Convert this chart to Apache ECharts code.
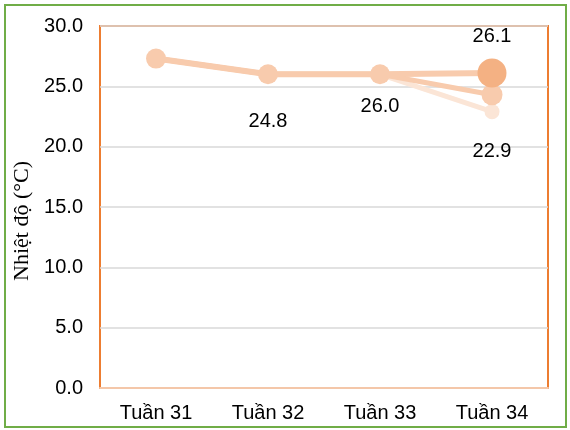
<!DOCTYPE html>
<html>
<head>
<meta charset="utf-8">
<script src="https://cdn.jsdelivr.net/npm/echarts@6/dist/echarts.min.js"></script>
<style>
  html, body { margin: 0; padding: 0; background: #fff; }
  #frame { position: absolute; left: 4px; top: 4px; width: 563px; height: 424px; border: 2px solid #70AD47; box-sizing: border-box; }
  #chart { position: absolute; left: 0; top: 0; width: 570px; height: 430px; }
</style>
</head>
<body>
<div id="frame"></div>
<div id="chart"></div>
<script>
const weeks = ['Tuần 31', 'Tuần 32', 'Tuần 33', 'Tuần 34'];
const tempMain = [27.3, 26.0, 26.0, 26.1];
const tempMid = [27.3, 26.0, 26.0, 24.3];
const tempLow = [27.3, 26.0, 26.0, 22.9];
const labelMain = ['', '24.8', '26.0', '26.1'];
const labelLow = ['', '', '', '22.9'];

const font = 'Liberation Sans, Arial, sans-serif';

function mainData() {
  const offs = [[0, 0], [0, 47], [0, 32], [0, -37]];
  return tempMain.map((v, i) => ({
    value: v,
    symbolSize: i === 3 ? 29 : 20,
    itemStyle: { color: i === 3 ? '#F4B183' : '#F8CBAD' },
    label: {
      show: labelMain[i] !== '',
      position: 'inside',
      offset: offs[i],
      formatter: labelMain[i]
    }
  }));
}

function lowData() {
  return tempLow.map((v, i) => ({
    value: v,
    symbolSize: i === 3 ? 15 : 0,
    label: {
      show: labelLow[i] !== '',
      position: 'inside',
      offset: [0, 40],
      formatter: labelLow[i]
    }
  }));
}

function midData() {
  return tempMid.map((v, i) => ({
    value: v,
    symbolSize: i === 3 ? 21 : 0
  }));
}

const chart = echarts.init(document.getElementById('chart'));
chart.setOption({
  animation: false,
  grid: {
    left: 100, right: 22, top: 26, bottom: 42,
    show: true, borderColor: '#ED7D31', borderWidth: 2, backgroundColor: 'transparent'
  },
  xAxis: {
    type: 'category',
    data: weeks,
    axisTick: { show: false },
    axisLine: { show: true, lineStyle: { color: '#F4C7A9', width: 2 } },
    axisLabel: { color: '#000', fontSize: 20, fontFamily: font, margin: 15 }
  },
  yAxis: {
    type: 'value',
    min: 0, max: 30, interval: 5,
    name: 'Nhiệt độ (°C)',
    nameLocation: 'middle',
    nameGap: 67,
    nameTextStyle: {
      color: '#000', fontSize: 22, fontFamily: 'Liberation Serif, Times New Roman, serif',
      padding: [0, 28, 0, 0]
    },
    axisLine: { show: false },
    axisTick: { show: false },
    splitLine: { lineStyle: { color: '#D9D9D9', width: 1.5 } },
    axisLabel: {
      color: '#000', fontSize: 20, fontFamily: font, margin: 17,
      formatter: v => v.toFixed(1)
    }
  },
  series: [
    {
      type: 'line',
      data: lowData(),
      symbol: 'circle',
      lineStyle: { color: '#FBE5D6', width: 5 },
      itemStyle: { color: '#FBE5D6' },
      label: { color: '#000', fontSize: 20, fontFamily: font },
      z: 2
    },
    {
      type: 'line',
      data: midData(),
      symbol: 'circle',
      lineStyle: { color: '#F8CBAD', width: 5 },
      itemStyle: { color: '#F8CBAD' },
      z: 3
    },
    {
      type: 'line',
      data: mainData(),
      symbol: 'circle',
      lineStyle: { color: '#F8CBAD', width: 6 },
      label: { color: '#000', fontSize: 20, fontFamily: font },
      z: 4
    }
  ]
});
</script>
</body>
</html>
